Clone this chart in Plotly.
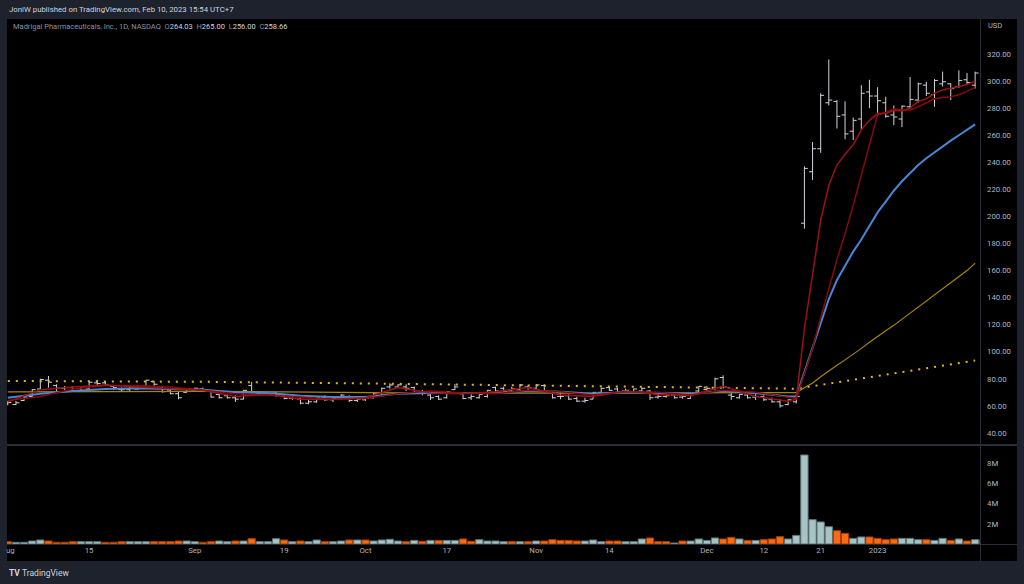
import plotly.graph_objects as go

# ---------------- data ----------------
bar_idx = list(range(120))  # trading days, Aug 1 2022 -> Jan 20 2023

open_ = [61.5, 61, 64, 67, 72.5, 79, 75, 73, 73.5, 71, 72.5, 77, 77, 74.5, 72, 72, 72.5, 75, 78, 74,
         71, 69, 70, 71, 72.5, 71, 68.5, 67.5, 66, 65, 75, 69, 69, 69.5, 68, 65.5, 65, 62, 63, 66.5,
         64.5, 65.5, 67, 64, 64.5, 66, 67, 74, 74, 74, 73.5, 70.5, 68, 67, 66, 72, 69, 66, 66, 67,
         73.5, 73, 71.5, 72, 74, 73, 75, 70.5, 67, 67.5, 65.5, 63.5, 65, 70, 73.5, 72.5, 71, 70, 71, 71,
         66.5, 67, 68, 66.5, 65.5, 71, 72, 72.5, 81, 68, 66, 68, 66.5, 67, 65, 63, 61, 63, 195, 233,
         250, 284, 285, 275, 263, 272, 292, 289, 284, 275, 272, 281, 286, 297, 290, 298, 298, 296, 301, 297]
high = [63.7, 63.7, 66.8, 72.3, 80.1, 82.1, 76, 74.7, 74.2, 74.2, 78.4, 79.2, 78.4, 75.2, 73.5, 74.2, 75.2, 79.2, 78.4, 74.2,
        71.8, 70.3, 72.8, 73.5, 73.5, 71.8, 69.3, 68.6, 67.8, 71.8, 77.7, 71, 70.3, 70.3, 68.6, 66.8, 66.1, 64.9, 66.1, 67.8,
        66.8, 68.6, 67.8, 66.8, 66.8, 69.8, 73.5, 76.7, 76, 76, 74.2, 71.8, 68.6, 67.8, 71, 76, 69.8, 68.6, 68.6, 71.8,
        74.2, 74.2, 74.2, 76, 75.2, 76, 76, 71, 69.3, 68.6, 66.8, 66.1, 70.3, 73.5, 74.2, 73.5, 72.8, 72.8, 73.5, 71.8,
        68.6, 69.3, 68.6, 68.6, 68.6, 74.7, 74.7, 80.9, 82.6, 69.8, 68.6, 68.6, 68.6, 67.8, 66.1, 64.9, 64.9, 67.3, 237, 255,
        291, 316, 286, 285, 273, 297, 301, 295.5, 288.5, 282, 282, 303, 299, 299.5, 301.5, 307, 298.5, 308, 306, 307]
low = [60.5, 60.7, 63.7, 66.1, 71.8, 73.5, 71, 71.8, 70.3, 70.3, 71.8, 74.7, 75.2, 71.8, 70.3, 71, 71.8, 74.2, 73.5, 69.8,
       68.6, 64.9, 69.8, 70.3, 70.3, 66.1, 65.4, 65.4, 62.9, 64.9, 67.8, 67.8, 67.8, 66.8, 64.9, 64.4, 61.2, 61.2, 62.4, 63.7,
       62.9, 64.9, 62.9, 62.9, 63.7, 65.4, 66.8, 72.8, 73.5, 71, 69.3, 67.8, 64.4, 64.4, 65.4, 71.8, 64.9, 64.4, 65.4, 66.1,
       70.3, 70.3, 70.3, 71, 71, 72.3, 70.3, 65.4, 64.9, 64.4, 62.9, 62.4, 64.9, 69.8, 71, 70.3, 69.8, 69.8, 70.3, 64.4,
       65.4, 66.1, 65.4, 65.4, 65.4, 70.3, 70.3, 71.8, 72.8, 64.4, 65.4, 65.4, 64.4, 63.7, 62.4, 58.7, 60.5, 61.9, 191, 227,
       247, 282, 265, 257, 256.5, 264, 280, 276.5, 273, 267.5, 266, 280, 284, 289, 281, 296, 286, 295, 297.5, 294.5]
close = [62.5, 62.3, 66.5, 72, 79.5, 77.5, 73, 73.5, 71, 74, 77.5, 76.5, 75.5, 73.5, 72, 73, 75, 79, 76, 70.5,
         69, 66, 72.5, 73, 72, 66.5, 66, 66, 65, 71.5, 68, 70, 68.5, 68.5, 65.5, 65.5, 62, 63, 66, 64.5,
         65.5, 68, 64, 65, 65.5, 69.5, 73, 75.5, 75.5, 73, 70, 70, 66, 65, 70.5, 74, 65.5, 67, 68.5, 71.5,
         71, 70.5, 72.5, 75.5, 73.5, 75.5, 71, 66, 67, 65, 63.5, 64, 70, 73, 71.5, 70.5, 71.5, 72.5, 73, 66,
         67, 67.5, 66, 67, 68, 74.5, 73, 80, 74, 67, 68.5, 66, 67, 64.5, 63, 60, 64.5, 67, 235.5, 250,
         289.5, 286, 274, 261, 271, 291, 289, 285.5, 274, 273.5, 281.5, 286.5, 298, 291, 300.5, 299.5, 294.5, 300.5, 299, 306]

vol_idx = list(range(121))
volume_m = [0.23, 0.17, 0.17, 0.3, 0.4, 0.3, 0.17, 0.17, 0.23, 0.23, 0.23, 0.23, 0.17, 0.17, 0.23, 0.23, 0.23, 0.23, 0.23, 0.23,
            0.23, 0.3, 0.3, 0.23, 0.17, 0.23, 0.3, 0.23, 0.3, 0.3, 0.53, 0.23, 0.23, 0.53, 0.4, 0.23, 0.3, 0.23, 0.4, 0.23,
            0.23, 0.3, 0.4, 0.4, 0.4, 0.3, 0.4, 0.47, 0.3, 0.23, 0.36, 0.27, 0.36, 0.36, 0.36, 0.36, 0.5, 0.27, 0.43, 0.3,
            0.3, 0.23, 0.23, 0.23, 0.23, 0.3, 0.3, 0.43, 0.36, 0.36, 0.3, 0.3, 0.4, 0.23, 0.3, 0.3, 0.23, 0.23, 0.5, 0.6,
            0.23, 0.23, 0.1, 0.3, 0.3, 0.5, 0.36, 0.6, 0.5, 0.66, 0.5, 0.36, 0.36, 0.43, 0.5, 0.73, 0.5, 0.86, 8.84, 2.42,
            2.19, 1.72, 1.32, 1.06, 0.56, 0.7, 0.7, 0.56, 0.43, 0.5, 0.56, 0.56, 0.43, 0.43, 0.36, 0.56, 0.36, 0.5, 0.3, 0.43,
            0.4]
# u = up-day volume colour, d = down-day volume colour (one letter per bar, 10 per group)
vol_dir = ("duuuuddddu" "uuddduuudd" "dduudduudu" "duuududuud" "uududuuuud" "ududuudduu"
           "uudududddd" "duuudduuud" "dduduuuudd" "ududdduuuu" "uudduudddd" "uuuduududu" "d")

# moving averages
ma_idx = [0, 4, 8, 12, 16, 20, 24, 28, 32, 36, 40, 44, 48, 52, 56, 60, 64, 68, 72, 76, 80, 84, 88, 92, 96, 97,
          98, 99, 100, 101, 102, 103, 104, 105, 106, 107, 108, 109, 110, 111, 112, 113, 114, 115, 116, 117, 118, 119]
ma_fast = [63, 72, 74, 75.5, 74, 72.5, 71.5, 67, 68.5, 65, 65, 66, 73.5, 69.5, 69, 70.5, 73.5, 68, 67, 71, 68.5, 67.5,
           74.5, 67, 63.5, 65,
           117, 157, 197, 223, 238, 246, 253, 264, 271, 276, 276, 278.5, 278, 280, 285, 287, 291, 293.5, 294.5, 296,
           297.5, 300]
ma_10 = [64, 67, 72.5, 75, 75, 74, 71.5, 69, 68, 66.5, 65, 65.5, 69, 71, 69.5, 69, 71.5, 70.5, 68, 70.5, 70, 68,
         71.5, 70, 66, 65.5,
         84, 102.5, 125, 147, 168, 187.5, 208, 230.5, 253, 275, 277, 279.4, 278.6, 278.7, 281.1, 284.1, 287, 287.9,
         288.4, 289.9, 292.4, 295.6]
ma_20 = [66, 69, 71, 72.5, 73, 72.5, 72, 70, 69.5, 67.5, 66.5, 66.5, 69, 69.5, 69.5, 69.5, 71, 70.5, 69, 70, 69.5, 69,
         71, 69.5, 67, 67,
         85, 103, 122, 139, 153, 164, 174, 183, 193, 203, 211, 219, 226, 232, 238, 243, 247.5, 251.5, 256, 260, 264, 268]
ma50_idx = [0, 24, 48, 72, 97, 98, 99, 100, 101, 102, 103, 104, 105, 106, 107, 108, 109, 110, 111, 112, 113, 114,
            115, 116, 117, 118, 119]
ma_50 = [70.3, 70.8, 69.6, 69.4, 69.8, 73.3, 77, 81.5, 86, 90, 94, 98, 102.5, 107, 111.5, 115.5, 119.5, 124, 128.5,
         133, 137.5, 142, 146.5, 151, 155.5, 160, 165.5]
ma200_idx = [0, 24, 48, 72, 97, 119]
ma_200 = [78.4, 77.8, 76.3, 74.8, 72.7, 93.5]

tick_idx = [0, 10, 23, 34, 44, 54, 65, 74, 86, 93, 100, 107]
tick_text = ["Aug", "15", "Sep", "19", "Oct", "17", "Nov", "14", "Dec", "12", "21", "2023"]
price_ticks = list(range(40, 321, 20))
vol_ticks = [2, 4, 6, 8]
vol_tick_text = ["2M", "4M", "6M", "8M"]

# ---------------- figure ----------------
FRAME = "#1e222d"
GRID = "#2a2e39"
TXT = "#b2b5be"
FONT = "Roboto"

W, H = 1024, 584
L, R, T, B = 7, 44, 19, 40
PW, PH = W - L - R, H - T - B


def px(x):
    return (x - L) / PW


def py(y):
    return (H - B - y) / PH


fig = go.Figure()

fig.add_trace(go.Ohlc(
    x=bar_idx, open=open_, high=high, low=low, close=close,
    increasing=dict(line=dict(color="#d1d4dc", width=1)),
    decreasing=dict(line=dict(color="#d1d4dc", width=1)),
    tickwidth=0.42, hoverinfo="skip", showlegend=False, yaxis="y"))

line_specs = [
    (ma200_idx, ma_200, dict(color="#e8b51f", width=2, dash="2px,6px")),
    (ma50_idx, ma_50, dict(color="#a8840f", width=1.2)),
    (ma_idx, ma_20, dict(color="#4a86d6", width=2)),
    (ma_idx, ma_10, dict(color="#850b0b", width=1.5)),
    (ma_idx, ma_fast, dict(color="#9c1212", width=1.5)),
]
for xs, ys, ln in line_specs:
    fig.add_trace(go.Scatter(x=xs, y=ys, mode="lines", line=ln, hoverinfo="skip",
                             showlegend=False, yaxis="y"))

vol_fill = ["#a6c3c6" if d == "u" else "#fb6a12" for d in vol_dir]
vol_edge = ["#5e7275" if d == "u" else "#9a3f06" for d in vol_dir]
fig.add_trace(go.Bar(x=vol_idx, y=volume_m, marker=dict(color=vol_fill, line=dict(color=vol_edge, width=1)),
                     width=0.9, hoverinfo="skip", showlegend=False, yaxis="y2"))

vol_split = (H - B - 445) / PH

fig.update_layout(
    width=W, height=H,
    margin=dict(l=L, r=R, t=T, b=B, pad=0, autoexpand=False),
    paper_bgcolor=FRAME, plot_bgcolor="rgba(0,0,0,0)",
    font=dict(family=FONT, color=TXT, size=7),
    bargap=0, hovermode=False,
    xaxis=dict(range=[-0.1, 119.6], anchor="y2", showgrid=False, zeroline=False, showline=False,
               tickmode="array", tickvals=tick_idx, ticktext=tick_text, ticks="", automargin=False,
               tickfont=dict(size=7.8, color=TXT, family=FONT), rangeslider=dict(visible=False),
               fixedrange=True),
    yaxis=dict(domain=[vol_split, 1], range=[31.1, 345.9], side="right", showgrid=False, zeroline=False,
               showline=False, tickmode="array", tickvals=price_ticks, tickformat=".2f", ticks="",
               automargin=False, ticklabelstandoff=6, tickfont=dict(size=7.8, color=TXT, family=FONT)),
    yaxis2=dict(domain=[0, vol_split], range=[0, 9.83], side="right", showgrid=False, zeroline=False,
                showline=False, tickmode="array", tickvals=vol_ticks, ticktext=vol_tick_text, ticks="",
                automargin=False, ticklabelstandoff=6, tickfont=dict(size=7.8, color=TXT, family=FONT)),
)

shapes = [
    dict(type="rect", xref="paper", yref="paper", x0=px(7), x1=px(1017), y0=py(561), y1=py(19),
         fillcolor="#000000", line=dict(width=0), layer="below"),
    dict(type="line", xref="paper", yref="paper", x0=px(7), x1=px(1017), y0=py(445), y1=py(445),
         line=dict(color=GRID, width=2), layer="above"),
    dict(type="line", xref="paper", yref="paper", x0=px(7), x1=px(1017), y0=py(544.5), y1=py(544.5),
         line=dict(color=GRID, width=1), layer="above"),
    dict(type="line", xref="paper", yref="paper", x0=px(980.5), x1=px(980.5), y0=py(561), y1=py(19),
         line=dict(color=GRID, width=1), layer="above"),
    dict(type="rect", xref="paper", yref="paper", x0=px(-2), x1=px(6.6), y0=py(584), y1=py(19),
         fillcolor=FRAME, line=dict(width=0), layer="above"),
]
fig.update_layout(shapes=shapes)

hi = "#d1d4dc"
ohlc_txt = ("Madrigal Pharmaceuticals, Inc., 1D, NASDAQ&nbsp;&nbsp;"
            f"O<span style='color:{hi}'>264.03</span>&nbsp;&nbsp;"
            f"H<span style='color:{hi}'>265.00</span>&nbsp;&nbsp;"
            f"L<span style='color:{hi}'>256.00</span>&nbsp;&nbsp;"
            f"C<span style='color:{hi}'>258.66</span>")
annotations = [
    dict(x=px(7), y=py(9.5), text="JoniW published on TradingView.com, Feb 10, 2023 15:54 UTC+7",
         font=dict(size=7.8, color="#d1d4dc", family=FONT)),
    dict(x=px(11), y=py(26.5), text=ohlc_txt, font=dict(size=7.5, color="#8f929b", family=FONT)),
    dict(x=px(986), y=py(25), text="USD", font=dict(size=7.5, color=TXT, family=FONT)),
    dict(x=px(7), y=py(573), text="<b>TV</b>&nbsp;TradingView", font=dict(size=8.5, color="#d1d4dc", family=FONT)),
]
for a in annotations:
    a.update(xref="paper", yref="paper", xanchor="left", yanchor="middle", showarrow=False)
fig.update_layout(annotations=annotations)

fig.write_html("out.html", config={"displayModeBar": False, "staticPlot": True},
               post_script="document.body.style.margin='0';document.body.style.overflow='hidden';"
                           "document.documentElement.style.overflow='hidden';")
